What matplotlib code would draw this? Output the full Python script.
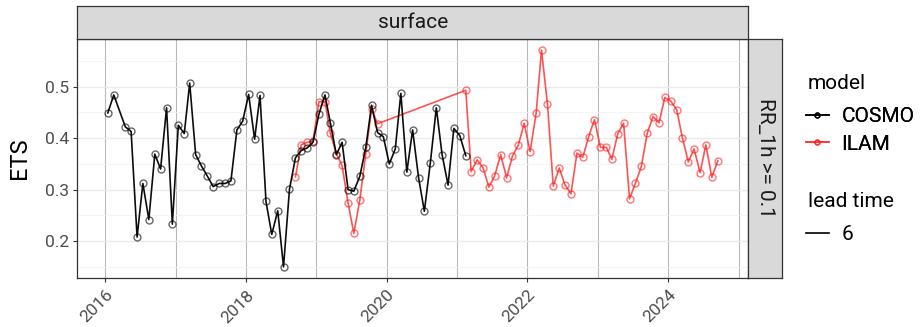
import numpy as np
import pandas as pd
import matplotlib
matplotlib.use("Agg")
import matplotlib.pyplot as plt
import matplotlib.dates as mdates
from matplotlib.lines import Line2D

plt.rcParams['font.family'] = ['Roboto', 'DejaVu Sans']

# --- data (monthly ETS) ---
COSMO_START = "2016-01"
cosmo_ets = [
    0.449, 0.484, None, 0.422, 0.413, 0.208, 0.312, 0.242, 0.369, 0.340, 0.459, 0.233,   # 2016
    0.425, 0.409, 0.507, 0.368, 0.346, 0.326, 0.306, 0.312, 0.312, 0.317, 0.416, 0.433,  # 2017
    0.485, 0.398, 0.483, 0.277, 0.213, 0.259, 0.150, 0.301, 0.362, 0.376, 0.381, 0.392,  # 2018
    0.447, 0.484, 0.430, 0.368, 0.392, 0.300, 0.297, 0.326, 0.382, 0.464, 0.411, 0.403,  # 2019
    0.350, 0.379, 0.487, 0.334, 0.416, 0.323, 0.258, 0.352, 0.459, 0.368, 0.309, 0.419,  # 2020
    0.405, 0.366,                                                                        # 2021
]

ILAM_START_A = "2018-09"
ilam_ets_a = [
    0.325, 0.387, 0.392, 0.394,                                                          # 2018
    0.471, 0.471, 0.410, 0.370, 0.347, 0.274, 0.215, 0.280, 0.370, 0.457, 0.428,         # 2019
]
ILAM_START_B = "2021-02"
ilam_ets_b = [
    0.493, 0.335, 0.358, 0.343, 0.305, 0.327, 0.368, 0.323, 0.365, 0.387, 0.429,         # 2021
    0.374, 0.448, 0.571, 0.466, 0.307, 0.342, 0.309, 0.292, 0.371, 0.363, 0.403, 0.436,  # 2022
    0.382, 0.382, 0.359, 0.409, 0.429, 0.282, 0.312, 0.345, 0.410, 0.442, 0.430, 0.479,  # 2023
    0.472, 0.455, 0.401, 0.354, 0.379, 0.333, 0.387, 0.324, 0.356,                      # 2024
]

year_ticks = [2016, 2018, 2020, 2022, 2024]
year_lines = list(range(2016, 2026))
y_ticks = [0.2, 0.3, 0.4, 0.5]

MODEL_COLORS = {"COSMO": "black", "ILAM": "#ff1a1a"}


def monthly(start, values):
    # mid-month dates, drop missing months (ggplot joins across them)
    dates = pd.period_range(start, periods=len(values), freq="M").to_timestamp() + pd.Timedelta(days=14)
    s = pd.Series(values, index=dates, dtype=float).dropna()
    return s


cosmo = monthly(COSMO_START, cosmo_ets)
ilam = pd.concat([monthly(ILAM_START_A, ilam_ets_a), monthly(ILAM_START_B, ilam_ets_b)])

W, H = 923, 327
fig = plt.figure(figsize=(W / 100, H / 100), dpi=100)

# panel position in pixels
px_l, px_r, px_t, px_b = 77.3, 748.3, 39.3, 277.7
ax = fig.add_axes([px_l / W, 1 - px_b / H, (px_r - px_l) / W, (px_b - px_t) / H])

for name, s, zl in [("COSMO", cosmo, 4), ("ILAM", ilam, 3)]:
    c = MODEL_COLORS[name]
    ax.plot(s.index, s.values, color=c, lw=1.2, alpha=0.75 if name == "ILAM" else 0.95, zorder=zl)
    ax.plot(s.index, s.values, ls="none", marker="o", ms=5, mfc="none", mec=c, mew=1.0,
            alpha=0.6, zorder=zl)

# axis ranges with ggplot-like 5% expansion
all_dates = cosmo.index.union(ilam.index)
d0, d1 = mdates.date2num(all_dates.min()), mdates.date2num(all_dates.max())
ax.set_xlim(d0 - 0.05 * (d1 - d0), d1 + 0.05 * (d1 - d0))
all_vals = np.concatenate([cosmo.values, ilam.values])
v0, v1 = all_vals.min(), all_vals.max()
ax.set_ylim(v0 - 0.05 * (v1 - v0), v1 + 0.05 * (v1 - v0))

# grid
ax.set_yticks(y_ticks)
ax.set_yticks(np.arange(0.15, 0.6, 0.1), minor=True)
ax.grid(True, which="major", axis="y", color="#ebebeb", lw=1.0, zorder=0)
ax.grid(True, which="minor", axis="y", color="#f2f2f2", lw=0.6, zorder=0)
for yr in year_lines:
    ax.axvline(mdates.date2num(pd.Timestamp(f"{yr}-01-01")), color="#b8b8b8", lw=0.8, zorder=1)

ax.set_xticks([mdates.date2num(pd.Timestamp(f"{y}-01-01")) for y in year_ticks])
ax.set_xticklabels([str(y) for y in year_ticks], rotation=45, ha="right", va="top",
                   rotation_mode="anchor")
ax.tick_params(axis="both", which="major", length=3, width=0.8, color="#333333",
               labelcolor="#4d4d4d", labelsize=12.5, pad=3)
ax.tick_params(axis="y", which="minor", length=0)
ax.tick_params(axis="x", pad=4)
for sp in ax.spines.values():
    sp.set_color("#333333")
    sp.set_linewidth(0.9)
ax.set_ylabel("ETS", fontsize=17, color="black", labelpad=10)

# facet strips
strip_top = fig.add_axes([px_l / W, 1 - px_t / H, (px_r - px_l) / W, (px_t - 6) / H])
strip_right = fig.add_axes([px_r / W, 1 - px_b / H, 33.4 / W, (px_b - px_t) / H])
for st in (strip_top, strip_right):
    st.set_facecolor("#d9d9d9")
    st.set_xticks([])
    st.set_yticks([])
    for sp in st.spines.values():
        sp.set_color("#333333")
        sp.set_linewidth(0.9)
strip_top.text(0.5, 0.5, "surface", ha="center", va="center", fontsize=15, color="#1a1a1a",
               transform=strip_top.transAxes)
strip_right.text(0.5, 0.5, "RR_1h >= 0.1", ha="center", va="center", fontsize=15, color="#1a1a1a",
                 rotation=-90, transform=strip_right.transAxes)

# legends (titles drawn separately so the gap below them can be set)
fig.text(808 / W, 1 - 89 / H, "model", fontsize=15, ha="left", va="baseline")
fig.text(808 / W, 1 - 207 / H, "lead time", fontsize=15, ha="left", va="baseline")

model_handles = [Line2D([], [], color=MODEL_COLORS[m], lw=1.2, marker="o", ms=3.5, mfc="none",
                        alpha=0.75 if m == "ILAM" else 0.95) for m in MODEL_COLORS]
leg1 = fig.legend(model_handles, list(MODEL_COLORS), loc="upper left",
                  bbox_to_anchor=(806 / W, 1 - 107 / H), frameon=False, fontsize=15,
                  handlelength=1.1, handletextpad=0.6, labelspacing=0.42,
                  borderpad=0, borderaxespad=0)
lead_handles = [Line2D([], [], color="black", lw=1.2)]
leg2 = fig.legend(lead_handles, ["6"], loc="upper left",
                  bbox_to_anchor=(806 / W, 1 - 225 / H), frameon=False, fontsize=15,
                  handlelength=1.1, handletextpad=0.6, borderpad=0, borderaxespad=0)
fig.add_artist(leg1)

fig.savefig("out.png", dpi=100)
